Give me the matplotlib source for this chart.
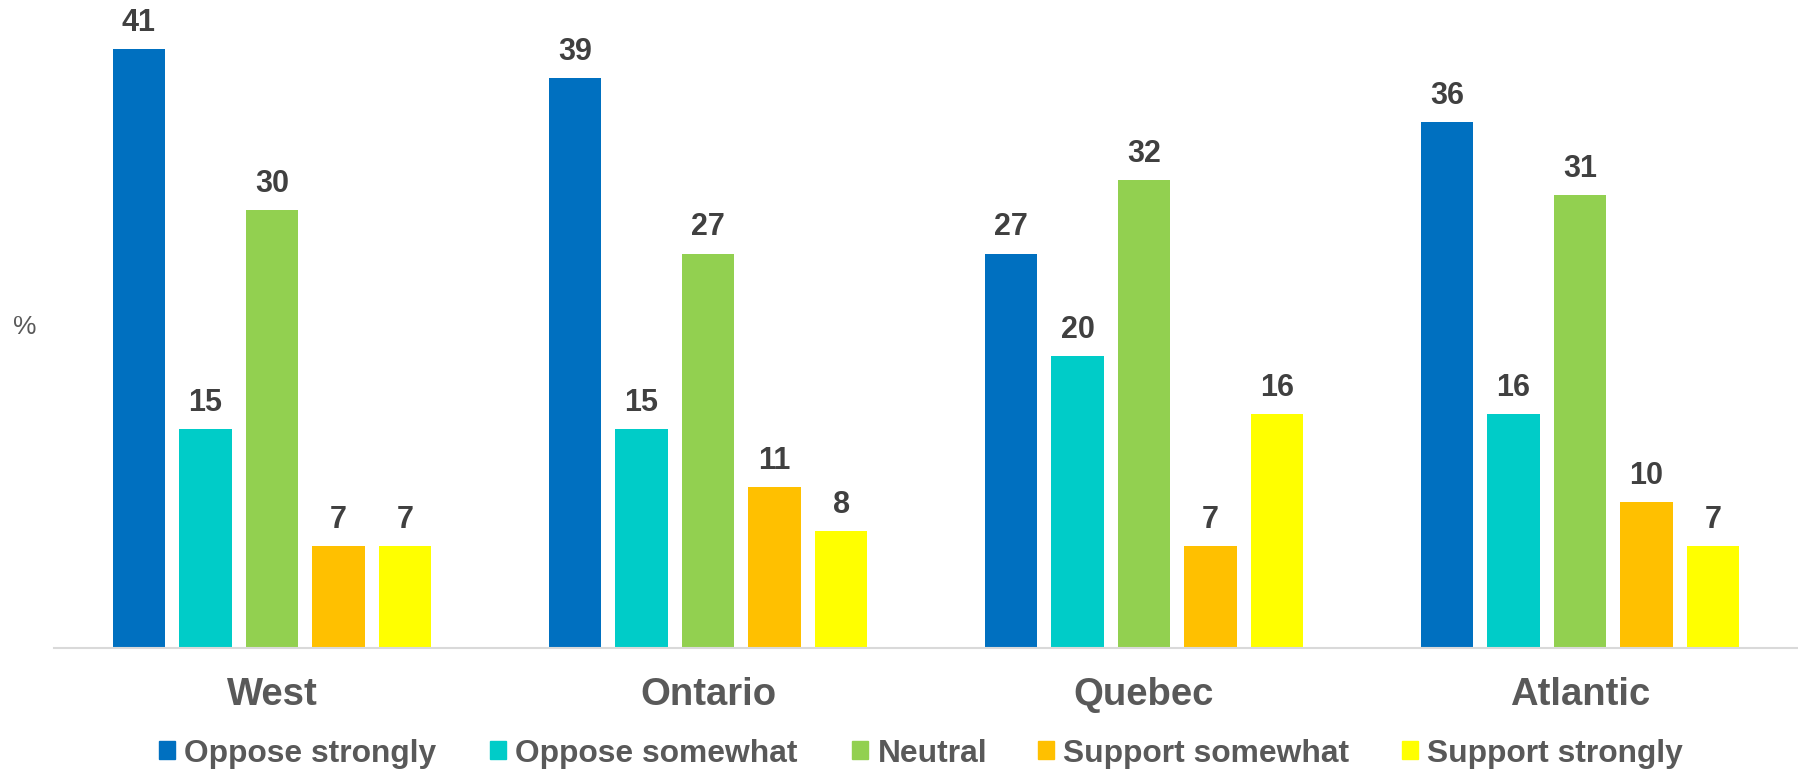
import numpy as np
import matplotlib.pyplot as plt
from matplotlib.patches import Patch

plt.rcParams['font.family'] = ['Liberation Sans', 'DejaVu Sans']

regions = ['West', 'Ontario', 'Quebec', 'Atlantic']
series = ['Oppose strongly', 'Oppose somewhat', 'Neutral', 'Support somewhat', 'Support strongly']
values = [
    [41, 39, 27, 36],
    [15, 15, 20, 16],
    [30, 27, 32, 31],
    [7, 11, 7, 10],
    [7, 8, 16, 7],
]
colors = ['#0070C0', '#00CCC8', '#92D050', '#FFC000', '#FFFF00']

W, H = 1798, 769
fig = plt.figure(figsize=(W / 100, H / 100), dpi=100)
ax = fig.add_axes([54 / W, (H - 648) / H, 1 - 54 / W, 648 / H])

x = np.arange(len(regions))
pitch = 0.1526
width = 0.121
for i, (name, vals) in enumerate(zip(series, values)):
    pos = x + (i - 2) * pitch
    ax.bar(pos, vals, width, color=colors[i], label=name)
    for px, v in zip(pos, vals):
        ax.annotate(str(v), (px, v), xytext=(0, 13), textcoords='offset points',
                    ha='center', va='baseline', fontsize=22, fontweight='bold',
                    color='#404040')

ax.set_xlim(-0.5, 3.5)
ax.set_ylim(0, 44.35)
for s in ['top', 'right', 'left']:
    ax.spines[s].set_visible(False)
ax.spines['bottom'].set_color('#D9D9D9')
ax.spines['bottom'].set_linewidth(1.5)
ax.set_yticks([])
ax.set_xticks(x)
ax.set_xticklabels(regions, fontsize=27.5, fontweight='bold', color='#595959')
ax.tick_params(axis='x', length=0, pad=21)

fig.text(25 / W, 1 - 327 / H, '%', fontsize=19, color='#595959', ha='center', va='center')

# legend entries placed one by one, like the original's uneven spacing
legend_x = [159, 490, 852, 1038, 1402]
for c, name, lx in zip(colors, series, legend_x):
    fig.legend([Patch(color=c)], [name], loc='center left',
               bbox_to_anchor=(lx / W, 0.020), frameon=False,
               handlelength=0.5, handleheight=0.5, handletextpad=0.3,
               prop={'size': 22.9, 'weight': 'bold'}, labelcolor='#595959',
               borderpad=0, borderaxespad=0)

fig.savefig('out.png', dpi=100)
